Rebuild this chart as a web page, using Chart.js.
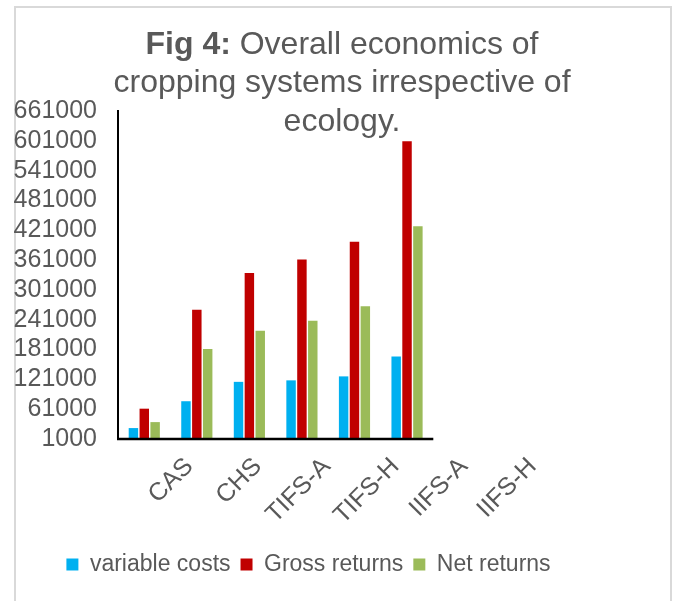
<!DOCTYPE html>
<html>
<head>
<meta charset="utf-8">
<title>Fig 4</title>
<script src="https://cdn.jsdelivr.net/npm/chart.js@4.4.1/dist/chart.umd.min.js"></script>
<style>
  html, body { margin: 0; padding: 0; background: #fff; overflow: hidden; }
  #wrap { position: relative; width: 681px; height: 601px; }
  #frame { position: absolute; left: 14px; top: 6px; width: 658px; height: 700px; box-sizing: border-box; border: 2px solid #d9d9d9; border-bottom: none; }
  canvas { position: absolute; left: 0; top: 0; }
</style>
</head>
<body>
<div id="wrap">
  <div id="frame"></div>
  <canvas id="chart" width="681" height="601"></canvas>
</div>
<script>
const categories = ['CAS', 'CHS', 'TIFS-A', 'TIFS-H', 'IIFS-A', 'IIFS-H'];
const variableCosts = [23000, 77000, 116000, 119000, 127000, 167000];
const grossReturns = [62000, 261000, 335000, 362000, 398000, 600000];
const netReturns = [35000, 182000, 219000, 239000, 268000, 429000];
const seriesNames = ['variable costs', 'Gross returns', 'Net returns'];
const yTicks = [1000, 61000, 121000, 181000, 241000, 301000, 361000, 421000, 481000, 541000, 601000, 661000];

const FONT = 'Arial, "Liberation Sans", sans-serif';
const textColor = '#595959';
Chart.defaults.font.family = FONT;
Chart.defaults.color = textColor;

// pair each value with its category index (bars sit on a numeric x scale)
const toPoints = vals => vals.map((v, i) => ({ x: i, y: v }));

// title with bold "Fig 4:"
const titlePlugin = {
  id: 'figTitle',
  afterDraw(chart) {
    const ctx = chart.ctx;
    const cx = 342;
    ctx.save();
    ctx.fillStyle = textColor;
    ctx.textBaseline = 'alphabetic';
    ctx.textAlign = 'left';
    ctx.font = 'bold 32px ' + FONT;
    const w1 = ctx.measureText('Fig 4:').width;
    ctx.font = '32px ' + FONT;
    const w2 = ctx.measureText(' Overall economics of').width;
    const x0 = cx - (w1 + w2) / 2;
    ctx.font = 'bold 32px ' + FONT;
    ctx.fillText('Fig 4:', x0, 54);
    ctx.font = '32px ' + FONT;
    ctx.fillText(' Overall economics of', x0 + w1, 54);
    ctx.textAlign = 'center';
    ctx.fillText('cropping systems irrespective of', cx, 92);
    ctx.fillText('ecology.', cx, 131);
    ctx.restore();
  }
};

// x axis line only under the bar categories
const xAxisLine = {
  id: 'xAxisLine',
  afterDatasetsDraw(chart) {
    const xs = chart.scales.x;
    const b = chart.chartArea.bottom;
    const ctx = chart.ctx;
    ctx.save();
    ctx.strokeStyle = '#000';
    ctx.lineWidth = 2.5;
    ctx.beginPath();
    ctx.moveTo(xs.getPixelForValue(-0.5) - 1, b);
    ctx.lineTo(xs.getPixelForValue(categories.length - 0.5), b);
    ctx.stroke();
    ctx.restore();
  }
};

new Chart(document.getElementById('chart'), {
  type: 'bar',
  data: {
    datasets: [
      { label: seriesNames[0], data: toPoints(variableCosts), backgroundColor: '#00B0F0' },
      { label: seriesNames[1], data: toPoints(grossReturns), backgroundColor: '#C00000' },
      { label: seriesNames[2], data: toPoints(netReturns), backgroundColor: '#9BBB59' }
    ]
  },
  options: {
    responsive: false,
    animation: false,
    devicePixelRatio: 1,
    datasets: { bar: { categoryPercentage: 0.62, barPercentage: 0.87 } },
    layout: { padding: { left: 12, right: 76, top: 111, bottom: 15 } },
    plugins: {
      tooltip: { enabled: false },
      title: { display: false },
      legend: {
        position: 'bottom',
        labels: {
          boxWidth: 12,
          boxHeight: 12,
          padding: 10,
          color: textColor,
          font: { size: 23 }
        }
      }
    },
    scales: {
      x: {
        type: 'linear',
        min: -0.5,
        max: 7.34,
        offset: false,
        display: false
      },
      x2: {
        type: 'category',
        labels: categories,
        position: 'bottom',
        offset: true,
        grid: { display: false, drawTicks: false },
        border: { display: false },
        ticks: {
          autoSkip: false,
          minRotation: 45,
          maxRotation: 45,
          labelOffset: 37,
          padding: 13,
          color: textColor,
          font: { size: 25 }
        },
        afterFit: s => { s.height = 104; }
      },
      y: {
        position: 'left',
        min: yTicks[0],
        max: yTicks[yTicks.length - 1],
        grid: { display: false, drawTicks: false },
        border: { display: true, color: '#000', width: 2 },
        ticks: {
          autoSkip: false,
          padding: 21,
          color: textColor,
          font: { size: 25 },
          callback: v => String(v)
        },
        afterBuildTicks: s => { s.ticks = yTicks.map(v => ({ value: v })); },
        afterFit: s => { s.width = 106; }
      },
      yRight: {
        type: 'linear',
        position: 'right',
        grid: { display: false, drawTicks: false },
        border: { display: false },
        ticks: { display: false },
        afterFit: s => { s.width = 75; }
      }
    }
  },
  plugins: [titlePlugin, xAxisLine]
});
</script>
</body>
</html>
